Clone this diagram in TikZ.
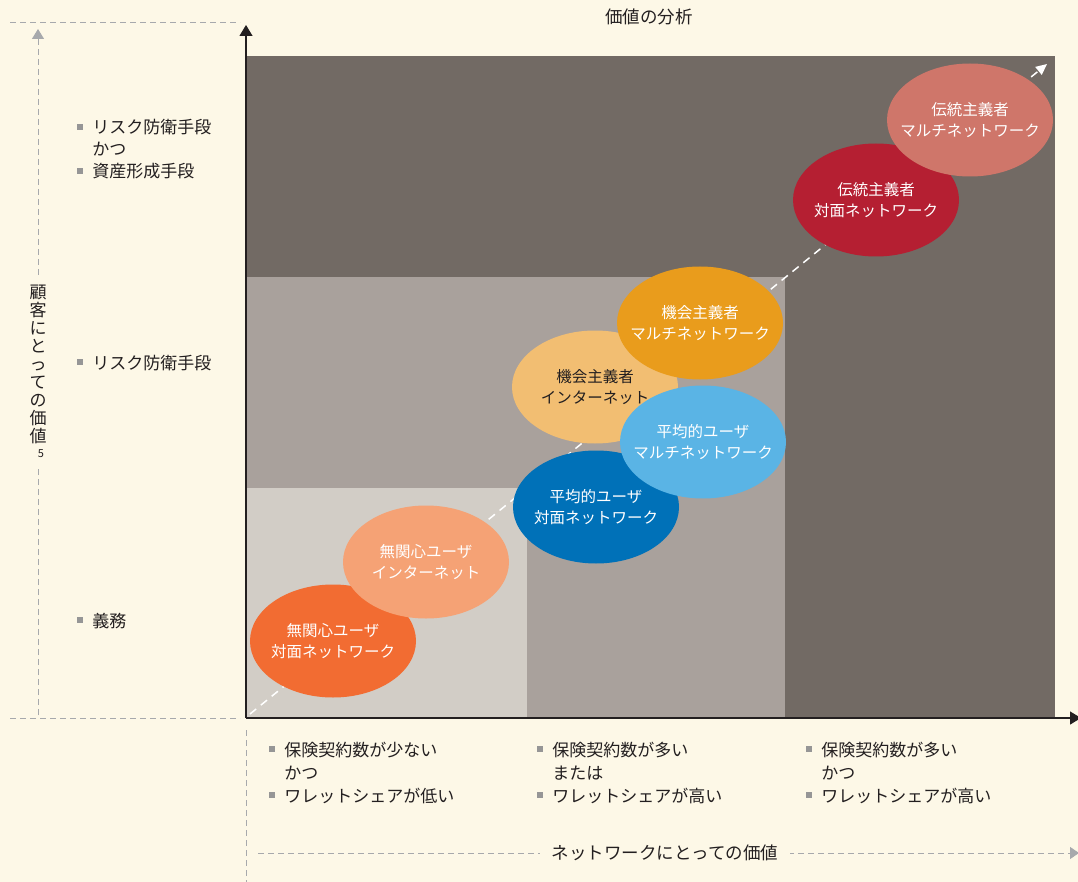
\documentclass[tikz,border=0pt]{standalone}
\usepackage{fontspec}
\setmainfont{Noto Sans CJK JP}
\usetikzlibrary{arrows.meta,shapes.geometric}
\definecolor{bg}{RGB}{253,248,231}
\definecolor{darkreg}{RGB}{114,106,100}
\definecolor{midreg}{RGB}{169,161,156}
\definecolor{lightreg}{RGB}{210,205,198}
\definecolor{ink}{RGB}{35,31,32}
\definecolor{dgray}{RGB}{167,169,172}
\definecolor{bulgray}{RGB}{150,150,150}
\definecolor{cA}{RGB}{242,108,50}
\definecolor{cB}{RGB}{245,162,117}
\definecolor{cC}{RGB}{0,113,184}
\definecolor{cD}{RGB}{242,190,114}
\definecolor{cE}{RGB}{233,156,28}
\definecolor{cF}{RGB}{90,180,229}
\definecolor{cG}{RGB}{181,31,50}
\definecolor{cH}{RGB}{207,118,106}
\newcommand\bulsq{{\color{bulgray}\rule[0.24em]{0.33em}{0.33em}}\hspace{0.56em}}
\newcommand\bulsp{\hphantom{\bulsq}}
\begin{document}
\begin{tikzpicture}[x=1pt,y=-1pt,
  gdash/.style={draw=dgray, line width=1pt, dash pattern=on 6pt off 4pt},
  axisline/.style={draw=ink, line width=1.2pt},
  ell/.style={ellipse, minimum width=166pt, minimum height=113pt, inner sep=0pt},
  etext/.style={inner sep=0pt, text=white, align=center, font=\fontsize{15.5}{21}\selectfont},
  lbl/.style={anchor=base west, align=left, inner sep=0pt, text=ink,
     font=\fontsize{17}{22}\selectfont},
  blbl/.style={lbl, font=\fontsize{17}{23}\selectfont},
  ttl/.style={anchor=base, inner sep=0pt, text=ink, font=\fontsize{17.5}{22}\selectfont}]
\useasboundingbox (0,0) rectangle (1078,882);
\fill[bg] (0,0) rectangle (1078,882);
% regions
\fill[darkreg] (246,56) rectangle (1055,718);
\fill[midreg] (246,277) rectangle (785,718);
\fill[lightreg] (246,488) rectangle (527,718);
% coordinates
\coordinate (o) at (246,718);
\coordinate (ytop) at (246,25);
\coordinate (xend) at (1081,718);
\coordinate (d0) at (250,714);
\coordinate (d1) at (1047,64);
\coordinate (gy0) at (38,715);
\coordinate (gy1) at (38,29);
\coordinate (gh0) at (10,23);
\coordinate (gh1) at (240,23);
\coordinate (gb0) at (10,718);
\coordinate (gb1) at (240,718);
\coordinate (gv0) at (246,730);
\coordinate (gv1) at (246,882);
\coordinate (gx0) at (258,853);
\coordinate (gx1) at (1079,853);
% gray dashed guides
\draw[gdash] (gh0) -- (gh1);
\draw[gdash] (gb0) -- (gb1);
\draw[gdash] (gv0) -- (gv1);
\draw[gdash, -{Triangle[length=10pt,width=12pt,fill=dgray]}] (gy0) -- (gy1);
\draw[gdash, -{Triangle[length=9pt,width=12pt,fill=dgray]}] (gx0) -- (gx1);
% axes
\draw[axisline, -{Triangle[length=11pt,width=13pt]}] (o) -- (ytop);
\draw[axisline, -{Triangle[length=11pt,width=13pt]}] (o) -- (xend);
% diagonal
\draw[white, line width=1.5pt, dash pattern=on 8pt off 6pt, -{Triangle[length=11pt,width=10pt]}] (d0) -- (d1);
% ellipses
\node[ell, fill=cA, label={[etext]center:{無関心ユーザ\\対面ネットワーク}}] (e1) at (333,641) {};
\node[ell, fill=cB, label={[etext]center:{無関心ユーザ\\インターネット}}] (e2) at (426,562) {};
\node[ell, fill=cD, label={[etext,text=ink]center:{機会主義者\\インターネット}}] (e4) at (595,387) {};
\node[ell, fill=cE, label={[etext]center:{機会主義者\\マルチネットワーク}}] (e5) at (700,323) {};
\node[ell, fill=cC, label={[etext]center:{平均的ユーザ\\対面ネットワーク}}] (e3) at (596,507) {};
\node[ell, fill=cF, label={[etext]center:{平均的ユーザ\\マルチネットワーク}}] (e6) at (703,442) {};
\node[ell, fill=cG, label={[etext]center:{伝統主義者\\対面ネットワーク}}] (e7) at (876,200) {};
\node[ell, fill=cH, label={[etext]center:{伝統主義者\\マルチネットワーク}}] (e8) at (970,120) {};
% titles
\node[ttl] (title) at (649,24) {価値の分析};
\node[ttl, fill=bg, inner xsep=12pt, inner ysep=4pt] (xlabel) at (665,859) {ネットワークにとっての価値};
\node[anchor=base, align=center, inner xsep=2pt, inner ysep=10pt, fill=bg, text=ink,
  font=\fontsize{17}{17.9}\selectfont] (ylabel) at (38,457)
  {顧\\客\\に\\と\\っ\\て\\の\\価\\値\\[-3pt]{\fontsize{11}{11}\selectfont\hspace{6pt}5}};
% left labels (base = last line)
\node[lbl] (l1) at (77,178) {\bulsq リスク防衛手段\\\bulsp かつ\\\bulsq 資産形成手段};
\node[lbl] (l2) at (77,369) {\bulsq リスク防衛手段};
\node[lbl] (l3) at (77,627) {\bulsq 義務};
% bottom labels (base = last line)
\node[blbl] (b1) at (269,802) {\bulsq 保険契約数が少ない\\\bulsp かつ\\\bulsq ワレットシェアが低い};
\node[blbl] (b2) at (537,802) {\bulsq 保険契約数が多い\\\bulsp または\\\bulsq ワレットシェアが高い};
\node[blbl] (b3) at (806,802) {\bulsq 保険契約数が多い\\\bulsp かつ\\\bulsq ワレットシェアが高い};
\end{tikzpicture}
\end{document}
